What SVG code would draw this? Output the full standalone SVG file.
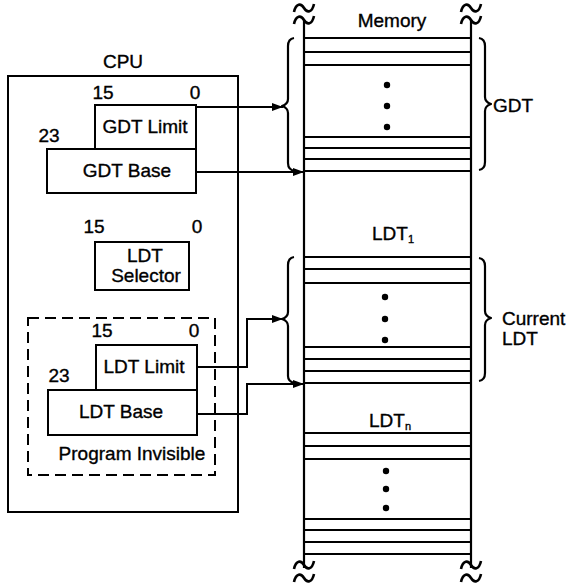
<svg xmlns="http://www.w3.org/2000/svg" width="567" height="588" viewBox="0 0 567 588">
<style>
text{font-family:"Liberation Sans",Arial,Helvetica,sans-serif;font-size:19px;fill:#000;stroke:#000;stroke-width:0.35}
.c{text-anchor:middle}
.box{fill:#fff;stroke:#000;stroke-width:2}
.ln{stroke:#000;stroke-width:2;fill:none}
.mem{stroke:#000;stroke-width:2.2}
.br{stroke:#000;stroke-width:2.2;fill:none;stroke-linejoin:round}
.sub{font-size:11px}
</style>
<defs>
<marker id="ah" markerWidth="11" markerHeight="8" refX="11" refY="4" orient="auto" markerUnits="userSpaceOnUse">
<path d="M0,0 L11,4 L0,8 z" fill="#000"/>
</marker>
<path id="tilde" d="M -10 4 C -8 -5 -3 -5 0 0 C 3 5 8 5 10 -4" fill="none" stroke="#000" stroke-width="2.6"/>
</defs>

<g id="cpu">
<rect x="8" y="76" width="230" height="436" class="box"/>
<text x="123" y="68" class="c">CPU</text>
</g>

<g id="gdtr">
<rect x="95" y="105" width="101" height="44" class="box"/>
<rect x="47" y="149" width="149" height="44" class="box"/>
<text x="103" y="99" class="c">15</text>
<text x="195" y="99" class="c">0</text>
<text x="49" y="142" class="c">23</text>
<text x="145" y="133" class="c">GDT Limit</text>
<text x="127" y="177" class="c">GDT Base</text>
</g>

<g id="ldt-selector">
<rect x="95" y="242" width="94" height="48" class="box"/>
<text x="94" y="233" class="c">15</text>
<text x="197" y="233" class="c">0</text>
<text x="145" y="262" class="c">LDT</text>
<text x="146" y="282" class="c">Selector</text>
</g>

<g id="program-invisible">
<rect x="28" y="318" width="187" height="157" fill="none" stroke="#000" stroke-width="2" stroke-dasharray="11,6"/>
<rect x="96" y="345" width="101" height="45" class="box"/>
<rect x="48" y="390" width="149" height="45" class="box"/>
<text x="102" y="337" class="c">15</text>
<text x="194" y="337" class="c">0</text>
<text x="59" y="382" class="c">23</text>
<text x="144" y="373" class="c">LDT Limit</text>
<text x="121" y="418" class="c">LDT Base</text>
<text x="132" y="460" class="c">Program Invisible</text>
</g>

<g id="memory">
<line x1="304" y1="20" x2="304" y2="568" class="mem"/>
<line x1="471" y1="20" x2="471" y2="568" class="mem"/>
<use href="#tilde" x="304" y="8"/>
<use href="#tilde" x="304" y="20"/>
<use href="#tilde" x="471" y="8"/>
<use href="#tilde" x="471" y="20"/>
<use href="#tilde" x="304" y="565"/>
<use href="#tilde" x="304" y="578"/>
<use href="#tilde" x="471" y="565"/>
<use href="#tilde" x="471" y="578"/>
<text x="392" y="27" class="c">Memory</text>
<g class="mem">
<line x1="304" y1="38" x2="471" y2="38"/>
<line x1="304" y1="52" x2="471" y2="52"/>
<line x1="304" y1="65" x2="471" y2="65"/>
<line x1="304" y1="137" x2="471" y2="137"/>
<line x1="304" y1="148" x2="471" y2="148"/>
<line x1="304" y1="159" x2="471" y2="159"/>
<line x1="304" y1="171" x2="471" y2="171"/>
<line x1="304" y1="257" x2="471" y2="257"/>
<line x1="304" y1="269" x2="471" y2="269"/>
<line x1="304" y1="283" x2="471" y2="283"/>
<line x1="304" y1="347" x2="471" y2="347"/>
<line x1="304" y1="359" x2="471" y2="359"/>
<line x1="304" y1="371" x2="471" y2="371"/>
<line x1="304" y1="383" x2="471" y2="383"/>
<line x1="304" y1="433" x2="471" y2="433"/>
<line x1="304" y1="446" x2="471" y2="446"/>
<line x1="304" y1="459" x2="471" y2="459"/>
<line x1="304" y1="519" x2="471" y2="519"/>
<line x1="304" y1="530" x2="471" y2="530"/>
<line x1="304" y1="542" x2="471" y2="542"/>
<line x1="304" y1="554" x2="471" y2="554"/>
</g>
<g fill="#000">
<circle cx="387" cy="85" r="3.2"/>
<circle cx="387" cy="106" r="3.2"/>
<circle cx="387" cy="127" r="3.2"/>
<circle cx="385" cy="297" r="3.2"/>
<circle cx="385" cy="319" r="3.2"/>
<circle cx="385" cy="340" r="3.2"/>
<circle cx="386" cy="471" r="3.2"/>
<circle cx="386" cy="489" r="3.2"/>
<circle cx="386" cy="508" r="3.2"/>
</g>
<text x="372" y="240">LDT<tspan class="sub" dy="3">1</tspan></text>
<text x="369" y="427">LDT<tspan class="sub" dy="3">n</tspan></text>
</g>

<g id="gdt-brace">
<path class="br" d="M 294 38 Q 288 39 288 46 L 288 99 Q 288 104 282 106 Q 288 108 288 113 L 288 163 Q 288 170 295 171"/>
<path class="br" d="M 479 38 Q 485 39 485 46 L 485 97 Q 485 102 491 104 Q 485 106 485 111 L 485 162 Q 485 169 479 170"/>
<text x="493" y="112">GDT</text>
</g>

<g id="ldt-brace">
<path class="br" d="M 294 257 Q 288 258 288 265 L 288 312 Q 288 317 282 319 Q 288 321 288 326 L 288 376 Q 288 382 295 383"/>
<path class="br" d="M 479 258 Q 485 259 485 266 L 485 311 Q 485 316 491 318 Q 485 320 485 325 L 485 373 Q 485 380 479 381"/>
<text x="502" y="325">Current</text>
<text x="502" y="345">LDT</text>
</g>

<g id="connectors" class="ln">
<path d="M 196 107 H 283" marker-end="url(#ah)"/>
<path d="M 196 172 H 304" marker-end="url(#ah)"/>
<path d="M 197 367 H 247 V 319 H 283" marker-end="url(#ah)"/>
<path d="M 197 414 H 247 V 384 H 304" marker-end="url(#ah)"/>
</g>
</svg>
